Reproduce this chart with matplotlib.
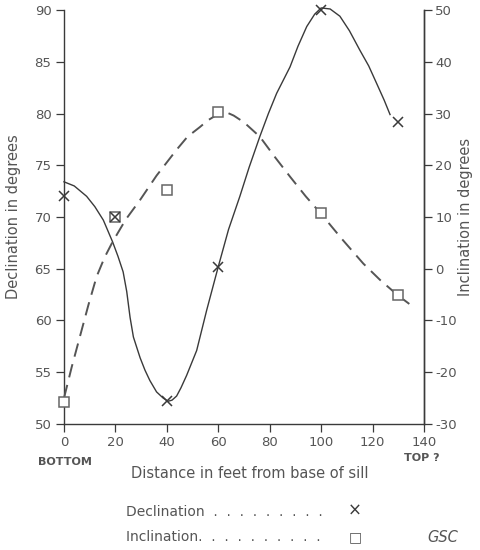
import matplotlib
matplotlib.use('Agg')
import matplotlib.pyplot as plt

# measured points
dec_pts_x = [0, 20, 40, 60, 100, 130]
dec_pts_y = [72, 70, 52.2, 65.2, 90, 79.2]
inc_pts_x = [0, 20, 40, 60, 100, 130]
inc_pts_y = [-25.7, 10, 15.3, 30.2, 10.7, -5.1]

# hand-drawn curves
dec_curve_x = [0, 4, 8.8, 12, 15.3, 18.9, 21, 23, 24.4, 25.7, 27, 29.6, 31.5, 33.4, 36, 38.6, 40.5,
               42, 43.8, 45.5, 47.7, 51.6, 55.5, 60, 64, 68.4, 72, 76.2, 79.5, 82.7, 87.9, 91, 94.4,
               97.5, 100, 103.5, 107.3, 111, 115.1, 118.5, 121.6, 124.5, 126.8]
dec_curve_y = [73.4, 73.0, 72.0, 71.0, 69.7, 67.6, 66.2, 64.7, 62.8, 60.3, 58.4, 56.4, 55.2, 54.2, 53.1, 52.5, 52.2,
               52.3, 52.7, 53.5, 54.7, 57.1, 61.0, 65.2, 68.8, 72.0, 74.8, 77.8, 80.0, 81.95, 84.5, 86.5, 88.4,
               89.6, 90.2, 90.1, 89.4, 88.0, 86.1, 84.6, 82.9, 81.3, 79.9]
inc_curve_x = [0, 3, 6.2, 9.5, 12.7, 15.8, 18.9, 24, 29.6, 36, 43.8, 48, 52.9, 56, 59, 61.5,
               63.3, 66, 70, 76.2, 82, 87.9, 94, 100, 108, 116.4, 123, 130, 134.3]
inc_curve_y = [-25, -19, -13.1, -7, -1.5, 2.2, 5.2, 9.5, 13.3, 18, 23, 25.5, 27.4, 28.7, 29.6, 30.1,
               30.2, 29.6, 28.3, 25.5, 21.6, 17.8, 14, 10.6, 5.8, 1.0, -2.2, -5.2, -6.8]

x_ticks = [0, 20, 40, 60, 80, 100, 120, 140]
dec_ticks = [50, 55, 60, 65, 70, 75, 80, 85, 90]
inc_ticks = [-30, -20, -10, 0, 10, 20, 30, 40, 50]

txt = '#555555'
ink = '#3a3a3a'
plt.rcParams['font.family'] = ['DejaVu Sans']
plt.rcParams['axes.unicode_minus'] = False

fig = plt.figure(figsize=(4.8, 5.5), dpi=100)
ax = fig.add_axes([0.1333, 0.2291, 0.75, 0.7527])
ax2 = ax.twinx()

ax.set_xlim(0, 140)
ax.set_ylim(50, 90)
ax2.set_ylim(-30, 50)

ax.plot(dec_curve_x, dec_curve_y, color=ink, lw=1.0, clip_on=False)
ax2.plot(inc_curve_x, inc_curve_y, color='#555555', lw=1.4, dashes=(7, 4), clip_on=False)
ax2.plot(inc_pts_x, inc_pts_y, linestyle='none', marker='s', ms=7.5, mew=1.1,
         mfc='white', mec='#666666', clip_on=False, zorder=4)
# crosses go on top of the squares (one point at 20 ft has both)
ax2.plot(dec_pts_x, dec_pts_y, linestyle='none', marker='x', ms=7, mew=1.1,
         color=ink, clip_on=False, zorder=5, transform=ax.transData)

ax.set_xlim(0, 140)
ax.set_ylim(50, 90)
ax2.set_ylim(-30, 50)
ax.set_xticks(x_ticks)
ax.set_yticks(dec_ticks)
ax2.set_yticks(inc_ticks)

for a in (ax, ax2):
    a.spines['top'].set_visible(False)
    for s in a.spines.values():
        s.set_color(ink)
        s.set_linewidth(1.0)
ax2.spines['left'].set_visible(False)
ax2.spines['bottom'].set_visible(False)

ax.tick_params(axis='both', direction='out', length=6, width=0.9, color=ink,
               labelsize=9.5, labelcolor=txt, pad=3)
ax2.tick_params(axis='y', direction='out', length=6, width=0.9, color=ink,
                labelsize=9.5, labelcolor=txt, pad=2)

ax.set_ylabel('Declination in degrees', fontsize=10.5, color=txt, labelpad=10)
ax2.set_ylabel('Inclination in degrees', fontsize=10.5, color=txt, labelpad=1)

fig.text(250 / 480, 1 - 473 / 550, 'Distance in feet from base of sill', ha='center',
         va='center', fontsize=10.5, color=txt)
fig.text(65 / 480, 1 - 462 / 550, 'BOTTOM', ha='center', va='center', fontsize=8,
         fontweight='bold', color=txt)
fig.text(422 / 480, 1 - 458 / 550, 'TOP ?', ha='center', va='center', fontsize=8,
         fontweight='bold', color=txt)

fig.text(126 / 480, 1 - 512 / 550, 'Declination  .  .  .  .  .  .  .  .  .', ha='left',
         va='center', fontsize=10, color=txt)
fig.text(355 / 480, 1 - 511 / 550, '\u00d7', ha='center', va='center', fontsize=12, color=ink)
fig.text(126 / 480, 1 - 537 / 550, 'Inclination.  .  .  .  .  .  .  .  .  .', ha='left',
         va='center', fontsize=10, color=txt)
fig.text(355 / 480, 1 - 537 / 550, '\u25a1', ha='center', va='center', fontsize=10, color=txt)
fig.text(443 / 480, 1 - 537 / 550, 'GSC', ha='center', va='center', fontsize=10.5,
         style='italic', color=txt)

fig.savefig('out.png', dpi=100)
